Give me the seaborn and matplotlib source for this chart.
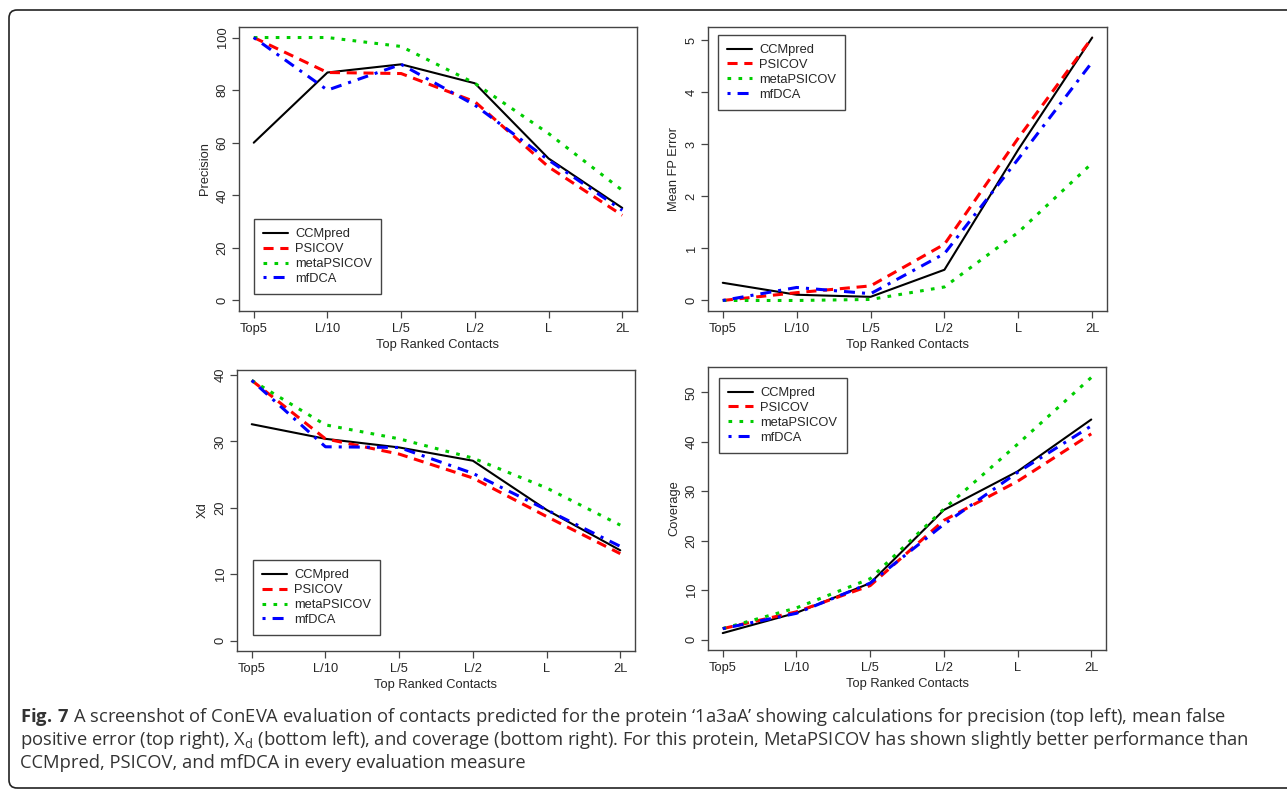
import numpy as np
import pandas as pd
import matplotlib
matplotlib.use("Agg")
import matplotlib.pyplot as plt
import seaborn as sns
from matplotlib.lines import Line2D
from matplotlib.patches import FancyBboxPatch
from matplotlib.transforms import IdentityTransform

# --------------------------------------------
# Data
# --------------------------------------------
ranks = ["Top5", "L/10", "L/5", "L/2", "L", "2L"]
methods = ["CCMpred", "PSICOV", "metaPSICOV", "mfDCA"]

precision_ccmpred = [60.0, 86.7, 89.8, 82.6, 54.0, 35.2]
precision_psicov = [100.0, 86.7, 86.3, 75.6, 50.8, 32.4]
precision_meta = [100.0, 100.0, 96.6, 82.6, 63.5, 41.9]
precision_mfdca = [100.0, 80.0, 89.8, 74.3, 53.4, 34.3]

fp_ccmpred = [0.34, 0.11, 0.07, 0.59, 2.9, 5.05]
fp_psicov = [0.0, 0.15, 0.28, 1.08, 3.12, 5.05]
fp_meta = [0.0, 0.0, 0.02, 0.26, 1.31, 2.64]
fp_mfdca = [0.0, 0.25, 0.13, 0.9, 2.72, 4.58]

xd_ccmpred = [32.6, 30.4, 29.1, 27.1, 19.7, 13.6]
xd_psicov = [39.2, 30.4, 28.1, 24.5, 18.7, 13.1]
xd_meta = [39.2, 32.5, 30.4, 27.5, 23.0, 17.4]
xd_mfdca = [39.2, 29.2, 29.1, 25.2, 19.7, 14.2]

cov_ccmpred = [1.3, 5.4, 11.4, 26.2, 34.0, 44.5]
cov_psicov = [2.2, 5.6, 10.9, 24.1, 32.0, 41.6]
cov_meta = [2.2, 6.4, 12.3, 26.4, 39.5, 53.0]
cov_mfdca = [2.2, 5.3, 11.4, 23.3, 33.8, 43.2]

caption_lines = [
    r"$\mathbf{Fig.\,7}$ A screenshot of ConEVA evaluation of contacts predicted for the protein ‘1a3aA’ showing calculations for precision (top left), mean false",
    r"positive error (top right), X$_\mathrm{d}$ (bottom left), and coverage (bottom right). For this protein, MetaPSICOV has shown slightly better performance than",
    "CCMpred, PSICOV, and mfDCA in every evaluation measure",
]

# --------------------------------------------
# Style
# --------------------------------------------
sns.set_style("ticks")
plt.rcParams['font.family'] = ['Liberation Sans', 'DejaVu Sans']
plt.rcParams['mathtext.fontset'] = 'custom'
plt.rcParams['mathtext.rm'] = 'Open Sans'
plt.rcParams['mathtext.bf'] = 'Open Sans:bold'

colors = {"CCMpred": "#000000", "PSICOV": "#FF0000", "metaPSICOV": "#00CD00", "mfDCA": "#0000FF"}
dashes = {"CCMpred": "", "PSICOV": (3.3, 2.2), "metaPSICOV": (1.2, 2.4), "mfDCA": (1.0, 2.3, 3.6, 2.3)}
widths = {"CCMpred": 1.5, "PSICOV": 2.2, "metaPSICOV": 2.2, "mfDCA": 2.2}

W, H = 1287, 789
fig = plt.figure(figsize=(W / 100, H / 100), dpi=100)

# panel boxes in pixels: left, top, right, bottom
panels = [
    ((239, 27, 637, 311), "Precision",
     [precision_ccmpred, precision_psicov, precision_meta, precision_mfdca],
     [0, 20, 40, 60, 80, 100], ("lower left", (0.038, 0.06))),
    ((708, 27, 1107, 311), "Mean FP Error",
     [fp_ccmpred, fp_psicov, fp_meta, fp_mfdca],
     [0, 1, 2, 3, 4, 5], ("upper left", (0.025, 0.972))),
    ((237, 370, 635, 651), "Xd",
     [xd_ccmpred, xd_psicov, xd_meta, xd_mfdca],
     [0, 10, 20, 30, 40], ("lower left", (0.04, 0.057))),
    ((708, 367, 1106, 650), "Coverage",
     [cov_ccmpred, cov_psicov, cov_meta, cov_mfdca],
     [0, 10, 20, 30, 40, 50], ("upper left", (0.028, 0.961))),
]

fs = 9.3
for (l, t, r, b), ylabel, series, yticks, (loc, anchor) in panels:
    ax = fig.add_axes([l / W, 1 - b / H, (r - l) / W, (b - t) / H])
    df = pd.DataFrame({
        "rank": np.tile(np.arange(len(ranks)), len(methods)),
        "value": np.concatenate(series),
        "method": np.repeat(methods, len(ranks)),
    })
    sns.lineplot(data=df, x="rank", y="value", hue="method", style="method", size="method",
                 hue_order=methods, style_order=methods, size_order=methods,
                 palette=colors, dashes=dashes, sizes=widths,
                 errorbar=None, legend=False, ax=ax)

    ymax = df["value"].max()
    ax.set_xlim(-0.2, len(ranks) - 0.8)
    ax.set_ylim(-0.04 * ymax, 1.04 * ymax)
    ax.set_xticks(np.arange(len(ranks)))
    ax.set_xticklabels(ranks)
    ax.set_yticks(yticks)
    ax.set_xlabel("Top Ranked Contacts", fontsize=fs, labelpad=3)
    ax.set_ylabel(ylabel, fontsize=fs, labelpad=4)
    ax.tick_params(direction="out", length=5, width=0.9, color="#444444", pad=3.5, labelsize=fs)
    ax.tick_params(axis="y", pad=2.5, labelrotation=90)
    for lab in ax.get_yticklabels():
        lab.set_va("center")
    for sp in ax.spines.values():
        sp.set_color("#444444")
        sp.set_linewidth(1.0)

    handles = [Line2D([], [], color=colors[m], lw=widths[m],
                      ls="-" if dashes[m] == "" else (0, dashes[m])) for m in methods]
    leg = ax.legend(handles, methods, loc=loc, bbox_to_anchor=anchor, borderaxespad=0,
                    fontsize=fs, frameon=True, fancybox=False, framealpha=1,
                    edgecolor="#444444", borderpad=0.7, labelspacing=0.22,
                    handlelength=1.9, handletextpad=0.6)
    leg.get_frame().set_linewidth(1.0)

# caption
for i, line in enumerate(caption_lines):
    fig.text(20 / W, 1 - (717 + 23 * i) / H, line, fontsize=13.2, family="Open Sans",
             color="#333333", va="center", ha="left")

# rounded frame around the whole figure
frame = FancyBboxPatch((9, 1), 1400, 778, boxstyle="round,pad=0,rounding_size=8",
                       transform=IdentityTransform(), fill=False, ec="#222222", lw=1.2)
fig.patches.append(frame)

fig.savefig("out.png", dpi=100)
